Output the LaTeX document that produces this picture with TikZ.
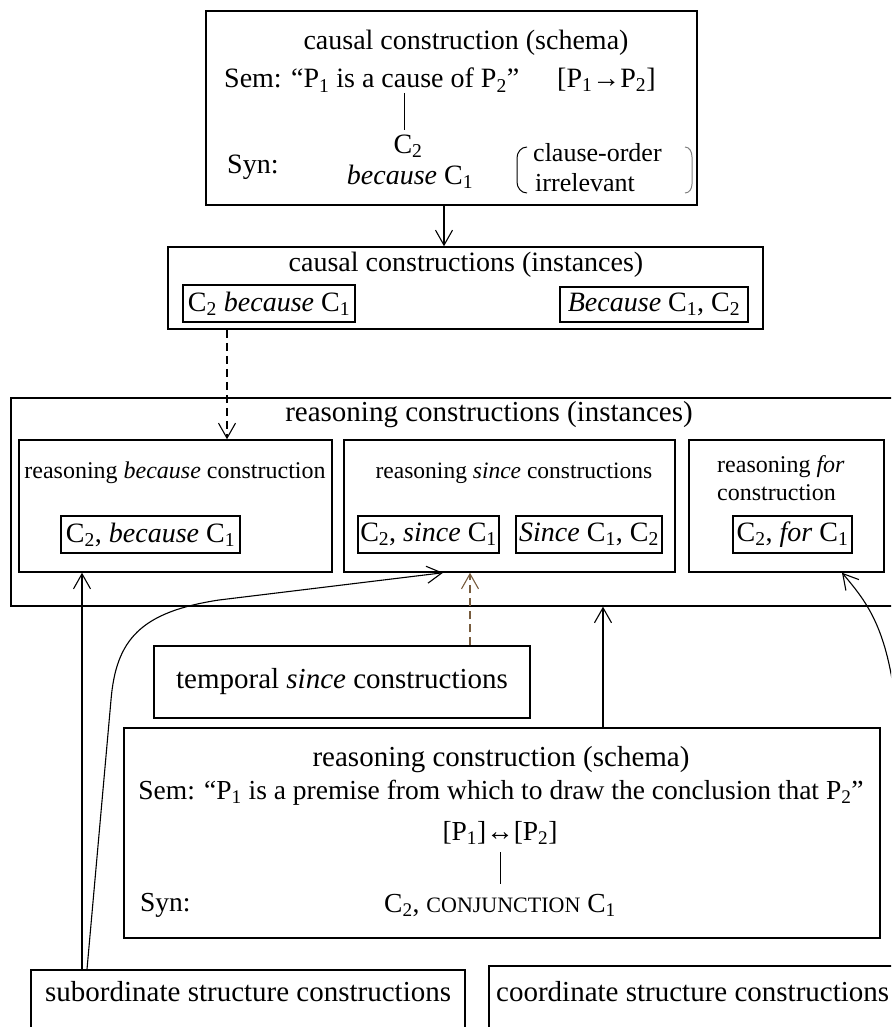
\documentclass[tikz,border=0pt]{standalone}
\usepackage{fontspec}
\setmainfont{Liberation Serif}
\usetikzlibrary{arrows.meta,fit}
\newcommand\fsz[1]{\fontsize{#1}{#1}\selectfont}
\newcommand\sub[1]{\textsubscript{#1}}
\definecolor{dashbrown}{RGB}{120,92,62}
\tikzset{
  heavybox/.style={draw, line width=2.6pt, inner sep=0pt},
  midbox/.style={draw, line width=1.5pt, inner sep=0pt},
  lightbox/.style={draw, line width=1.1pt, inner sep=0pt},
  label/.style={inner sep=0pt, font=\fsz{28}},
  arr/.style={line width=1.1pt, -{Straight Barb[length=15pt,width=17pt,line width=1.1pt]}},
  dasharr/.style={arr, dash pattern=on 8pt off 5pt},
}
\begin{document}
\begin{tikzpicture}[x=1pt,y=-1pt]
\useasboundingbox (0,0) rectangle (891,1027);
\clip (0,0) rectangle (891,1027);

% causal schema
\node[heavybox, fit={(206,11) (697,205)}] (top) {};
\node[label] (ttitle) at (466,43) {causal construction (schema)};
\node[label, anchor=west] (tsem) at (224,80) {Sem: “P\sub{1} is a cause of P\sub{2}”};
\node[label, anchor=west] (tfml) at (557,80) {[P\sub{1}→P\sub{2}]};
\coordinate (tl1) at (404,93);
\coordinate (tl2) at (404,130);
\draw[line width=0.9pt] (tl1) -- (tl2);
\node[label] (tc2) at (408,146) {C\sub{2}};
\node[label] (tbec) at (410,177) {\textit{because} C\sub{1}};
\node[label, anchor=west] (tsyn) at (227,167) {Syn:};
\draw[line width=1pt] (527,147) to[out=180,in=90] (517,158) -- (517,182) to[out=-90,in=180] (527,193);
\draw[line width=1pt, gray] (685,147) to[out=0,in=90] (692,157) -- (692,184) to[out=-90,in=0] (685,193);
\node[label, font=\fsz{26}, anchor=west] (tco) at (533,153) {clause-order};
\node[label, font=\fsz{26}, anchor=west] (tir) at (535,183) {irrelevant};

% causal instances
\node[midbox, fit={(168,247) (763,329)}] (ci) {};
\node[label] (cititle) at (466,265) {causal constructions (instances)};
\node[lightbox, fit={(183,285) (355,322)}] (cb1) {};
\node[label] at (cb1.center) {C\sub{2} \textit{because} C\sub{1}};
\node[lightbox, fit={(560,287) (748,322)}] (cb2) {};
\node[label] at (cb2.center) {\textit{Because} C\sub{1}, C\sub{2}};

% reasoning instances
\node[lightbox, line width=1.3pt, fit={(11,398) (905,606)}] (rout) {};
\node[label, font=\fsz{29}] (rtitle) at (489,415) {reasoning constructions (instances)};
\node[midbox, fit={(19,440) (332,572)}] (r1) {};
\node[label, font=\fsz{24}] at (175,473) {reasoning \textit{because} construction};
\node[lightbox, fit={(61,516) (240,553)}] (r1b) {};
\node[label] at (r1b.center) {C\sub{2}, \textit{because} C\sub{1}};
\node[midbox, fit={(344,440) (675,572)}] (r2) {};
\node[label, font=\fsz{23.5}] at (514,473) {reasoning \textit{since} constructions};
\node[lightbox, fit={(358,516) (499,553)}] (r2a) {};
\node[label] at (r2a.center) {C\sub{2}, \textit{since} C\sub{1}};
\node[lightbox, fit={(516,516) (662,553)}] (r2b) {};
\node[label] at (r2b.center) {\textit{Since} C\sub{1}, C\sub{2}};
\node[midbox, fit={(689,440) (884,572)}] (r3) {};
\node[label, font=\fsz{24}, anchor=west] at (717,467) {reasoning \textit{for}};
\node[label, font=\fsz{24}, anchor=west] at (717,493) {construction};
\node[lightbox, fit={(733,516) (852,553)}] (r3b) {};
\node[label] at (r3b.center) {C\sub{2}, \textit{for} C\sub{1}};

% temporal since
\node[midbox, fit={(154,646) (530,718)}] (temp) {};
\node[label, font=\fsz{29}] at (temp.center) {temporal \textit{since} constructions};

% reasoning schema
\node[heavybox, fit={(124,728) (880,938)}] (schema) {};
\node[label, font=\fsz{29}] at (501,760) {reasoning construction (schema)};
\node[label, font=\fsz{27.5}] at (501,793) {Sem: “P\sub{1} is a premise from which to draw the conclusion that P\sub{2}”};
\node[label, font=\fsz{27.5}] at (500,833) {[P\sub{1}]↔[P\sub{2}]};
\coordinate (sl1) at (500,852);
\coordinate (sl2) at (500,884);
\draw[line width=0.9pt] (sl1) -- (sl2);
\node[label, font=\fsz{27.5}, anchor=west] at (140,905) {Syn:};
\node[label, font=\fsz{27.5}] at (500,905) {C\sub{2}, {\fsz{22}CONJUNCTION} C\sub{1}};

% structure types
\node[midbox, fit={(31,970) (465,1045)}] (sub) {};
\node[label, font=\fsz{29}, anchor=west] at (45,992) {subordinate structure constructions};
\node[midbox, line width=1.8pt, fit={(489,966) (905,1045)}] (coord) {};
\node[label, font=\fsz{29}, anchor=west] at (496,992) {coordinate structure constructions};

% connector positions
\coordinate (xa) at (444,0);
\coordinate (xb) at (227,0);
\coordinate (xc) at (82,0);
\coordinate (xd) at (87,0);
\coordinate (xe) at (443,0);
\coordinate (xf) at (470,0);
\coordinate (xg) at (603,0);
\coordinate (xh) at (842,0);
\coordinate (rfree) at (895,700);

% connectors
\draw[arr] (top.south -| xa) -- (ci.north -| xa);
\draw[dasharr] (ci.south -| xb) -- (r1.north -| xb);
\draw[arr] (sub.north -| xc) -- (r1.south -| xc);
\draw[arr] (sub.north -| xd) -- (111,700) .. controls (116,640) and (140,612) .. (219,600) -- (r2.south -| xe);
\draw[dasharr, dashbrown] (temp.north -| xf) -- (r2.south -| xf);
\draw[arr] (schema.north -| xg) -- (rout.south -| xg);
\draw[arr] (rfree) .. controls (886,625) and (865,600) .. (r3.south -| xh);
\end{tikzpicture}
\end{document}
